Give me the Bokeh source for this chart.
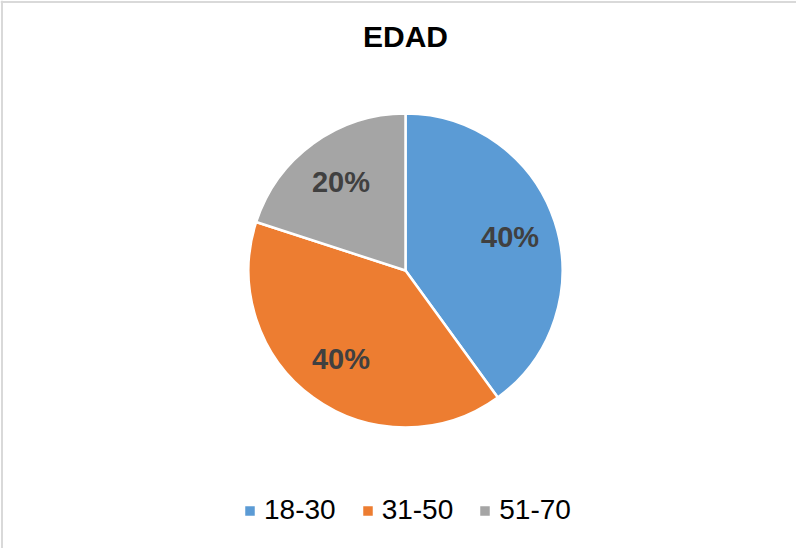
import numpy as np
from bokeh.plotting import figure
from bokeh.models import Range1d, Label, Legend, LegendItem, Span, ColumnDataSource
from bokeh.core.properties import value
from bokeh.embed import file_html
from bokeh.resources import INLINE

# ---- data ----
categories = ["18-30", "31-50", "51-70"]
values = [40, 40, 20]
colors = ["#5B9BD5", "#ED7D31", "#A5A5A5"]
title_text = "EDAD"

# ---- layout ----
W, H = 796, 548
FONT = "Liberation Sans"
cx, cy = 405, 278          # pie centre in data (pixel-like) coords, y up
R = 157                    # radius in screen px

frac = np.array(values, dtype=float) / sum(values)
cum_end = np.cumsum(frac)
cum_start = cum_end - frac
# clockwise from 12 o'clock
start = np.pi / 2 - cum_end * 2 * np.pi
end = np.pi / 2 - cum_start * 2 * np.pi
mid = (start + end) / 2
lab_r = 0.7 * R
src = ColumnDataSource(dict(
    cat=categories, val=values, color=colors,
    start=start, end=end,
    lx=cx + lab_r * np.cos(mid), ly=cy + lab_r * np.sin(mid),
    lab=[f"{v:.0f}%" for v in frac * 100],
))

p = figure(width=W, height=H, output_backend="svg", toolbar_location=None,
           x_range=Range1d(0, W), y_range=Range1d(0, H), min_border=0)
p.axis.visible = False
p.grid.visible = False
p.outline_line_color = None
p.background_fill_color = "white"
p.border_fill_color = "white"

# chart border (top and left visible)
p.add_layout(Span(location=1.5, dimension="height", line_color="#d9d9d9", line_width=2))
p.add_layout(Span(location=H - 1.5, dimension="width", line_color="#d9d9d9", line_width=2))

w = p.wedge(x=cx, y=cy, radius=R, radius_units="screen",
            start_angle="start", end_angle="end", direction="anticlock",
            fill_color="color", line_color="white", line_width=2.5, source=src)

p.text(x="lx", y="ly", text="lab", source=src, text_align="center",
       text_baseline="middle", text_font=value(FONT), text_font_size="29px",
       text_font_style="bold", text_color="#404040")

p.add_layout(Label(x=cx, y=H - 36, text=title_text, text_align="center",
                   text_baseline="middle", text_font=FONT, text_font_size="30px",
                   text_font_style="bold", text_color="#000000"))

legend = Legend(items=[LegendItem(label=c, renderers=[w], index=i) for i, c in enumerate(categories)],
                orientation="horizontal", location=(242, 22),
                label_text_font=FONT, label_text_font_size="28px", label_text_color="#000000",
                glyph_width=15, glyph_height=15, label_standoff=7, spacing=24,
                padding=0, margin=0, border_line_color=None, background_fill_alpha=0)
p.add_layout(legend, "center")

open("out.html", "w").write(file_html(p, INLINE))
